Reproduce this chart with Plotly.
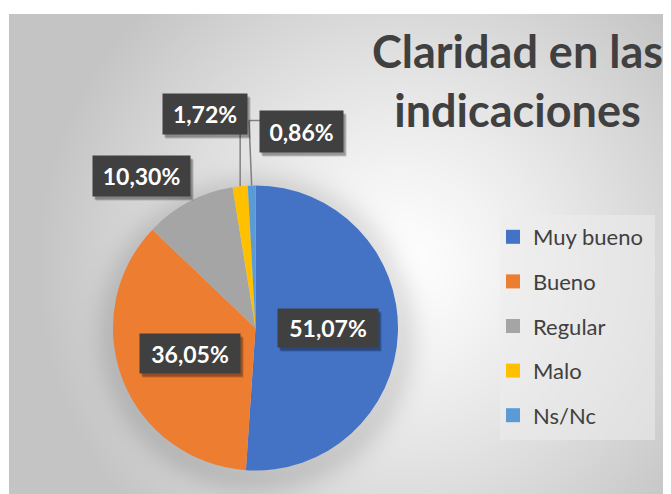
import base64
import struct
import zlib

import numpy as np
import plotly.graph_objects as go

# ---------------- data ----------------
categories = ["Muy bueno", "Bueno", "Regular", "Malo", "Ns/Nc"]
counts = [119, 84, 24, 4, 2]
colors = ["#4472C4", "#ED7D31", "#A5A5A5", "#FFC000", "#5B9BD5"]
chart_title = "Claridad en las<br>indicaciones"

# ---------------- layout constants (page pixels) ----------------
W, H = 671, 494
OFF = 8                             # default page body margin
AREA_X0, AREA_Y0 = 9, 14            # chart area top-left on the page
CX, CY, R = 255.5, 328.0, 142.5     # pie centre / radius
# data label boxes: centre x, centre y, width, height
label_boxes = [
    (327.5, 328.0, 100, 38),
    (190.0, 353.0, 100, 39),
    (141.5, 176.0, 97, 40),
    (205.0, 114.0, 84, 40),
    (301.5, 131.5, 83, 41),
]
LEGEND_BOX = (500, 215, 655, 440)

total = sum(counts)
pct_text = [f"{v / total * 100:.2f}%".replace(".", ",") for v in counts]


def px(x):
    return (x - OFF) / W


def py(y):
    return 1 - (y - OFF) / H


# ---------------- background (radial gradient + pie shadow) ----------------
def png_gray(arr):
    h, w = arr.shape
    raw = b"".join(b"\x00" + arr[i].tobytes() for i in range(h))

    def chunk(t, d):
        c = struct.pack(">I", len(d)) + t + d
        return c + struct.pack(">I", zlib.crc32(t + d) & 0xFFFFFFFF)

    return (b"\x89PNG\r\n\x1a\n"
            + chunk(b"IHDR", struct.pack(">IIBBBBB", w, h, 8, 0, 0, 0, 0))
            + chunk(b"IDAT", zlib.compress(raw, 9))
            + chunk(b"IEND", b""))


AREA_X1, AREA_Y1 = W + OFF, H + OFF
bw, bh = AREA_X1 - AREA_X0, AREA_Y1 - AREA_Y0
yy, xx = np.mgrid[0:bh, 0:bw].astype(float)
gx = xx + AREA_X0
gy = yy + AREA_Y0
d = np.sqrt((gx - 400) ** 2 + (gy - 265) ** 2) / 330.0
val = 255 - 52 * np.clip(d, 0, 1.1) ** 1.2
ds = np.sqrt((gx - CX - 2) ** 2 + (gy - CY - 5) ** 2) - R
shadow = np.exp(-np.clip(ds, 0, None) ** 2 / (2 * 14.0 ** 2))
val = val - 26 * shadow
bg = np.clip(val, 0, 255).astype(np.uint8)
bg_src = "data:image/png;base64," + base64.b64encode(png_gray(bg)).decode()

# ---------------- figure ----------------
fig = go.Figure()

fig.add_trace(go.Pie(
    labels=categories,
    values=counts,
    marker=dict(colors=colors, line=dict(width=0)),
    sort=False,
    direction="clockwise",
    rotation=0,
    textinfo="none",
    hoverinfo="label+percent",
    showlegend=False,
    domain=dict(x=[px(CX - R), px(CX + R)], y=[py(CY + R), py(CY - R)]),
))

# legend entries (one group each so the spacing can be controlled)
for cat, col in zip(categories, colors):
    fig.add_trace(go.Scatter(
        x=[None], y=[None], mode="markers",
        marker=dict(symbol="square", size=14, color=col),
        name=cat, legendgroup=cat, showlegend=True, hoverinfo="skip",
    ))

annotations = []
shapes = []

# title
annotations.append(dict(
    text=chart_title, x=px(517), y=py(80), xref="paper", yref="paper",
    xanchor="center", yanchor="middle", showarrow=False, align="center",
    font=dict(family="Lato", size=45, color="#404040", weight="bold"),
))

# data labels with shadows
for (bx, byy, w, h), t in zip(label_boxes, pct_text):
    for ox, oy, a in [(3, 4, 0.18), (2, 3, 0.22)]:
        annotations.append(dict(
            text=" ", x=px(bx + ox), y=py(byy + oy), xref="paper", yref="paper",
            xanchor="center", yanchor="middle", showarrow=False,
            width=w, height=h, borderpad=0, bgcolor=f"rgba(0,0,0,{a})",
        ))
    annotations.append(dict(
        text=t, x=px(bx), y=py(byy), xref="paper", yref="paper",
        xanchor="center", yanchor="middle", showarrow=False,
        width=w, height=h, borderpad=0, bgcolor="#404040", align="center",
        valign="middle",
        font=dict(family="Lato", size=23, color="white", weight="bold"),
    ))

# leader lines for the small slices (Malo, Ns/Nc)
cum = np.cumsum([0] + counts)
mid_angle = [(cum[i] + counts[i] / 2) / total * 2 * np.pi for i in range(len(counts))]
edge = [(CX + R * np.sin(a), CY - R * np.cos(a)) for a in mid_angle]
line_style = dict(color="#808080", width=1.5)
# Malo: straight down from the label box
ex, ey = edge[3]
bx, byy, w, h = label_boxes[3]
shapes.append(dict(type="line", xref="paper", yref="paper",
                   x0=px(ex), y0=py(byy + h / 2), x1=px(ex), y1=py(ey), line=line_style))
# Ns/Nc: elbow from the left side of the label box
ex, ey = edge[4]
bx, byy, w, h = label_boxes[4]
elbow_x = bx - w / 2 - 11
elbow_y = byy - 11
shapes.append(dict(type="line", xref="paper", yref="paper",
                   x0=px(bx - w / 2), y0=py(elbow_y), x1=px(elbow_x), y1=py(elbow_y), line=line_style))
shapes.append(dict(type="line", xref="paper", yref="paper",
                   x0=px(elbow_x), y0=py(elbow_y), x1=px(ex), y1=py(ey), line=line_style))

# legend background box
lx0, ly0, lx1, ly1 = LEGEND_BOX
shapes.append(dict(type="rect", xref="paper", yref="paper", layer="below",
                   x0=px(lx0), y0=py(ly1), x1=px(lx1), y1=py(ly0),
                   fillcolor="rgba(236,236,236,0.55)", line=dict(width=0)))

fig.update_layout(
    width=W, height=H,
    margin=dict(l=0, r=0, t=0, b=0),
    paper_bgcolor="white",
    plot_bgcolor="rgba(0,0,0,0)",
    xaxis=dict(visible=False),
    yaxis=dict(visible=False),
    images=[dict(source=bg_src, xref="paper", yref="paper",
                 x=px(AREA_X0), y=py(AREA_Y0), sizex=bw / W, sizey=bh / H,
                 xanchor="left", yanchor="top", sizing="stretch", layer="below")],
    annotations=annotations,
    shapes=shapes,
    showlegend=True,
    legend=dict(
        x=px(493), y=py(216), xanchor="left", yanchor="top",
        bgcolor="rgba(0,0,0,0)", borderwidth=0,
        font=dict(family="Lato", size=22, color="#404040"),
        tracegroupgap=13, itemclick=False, itemdoubleclick=False,
    ),
)

fig.write_html("out.html")
